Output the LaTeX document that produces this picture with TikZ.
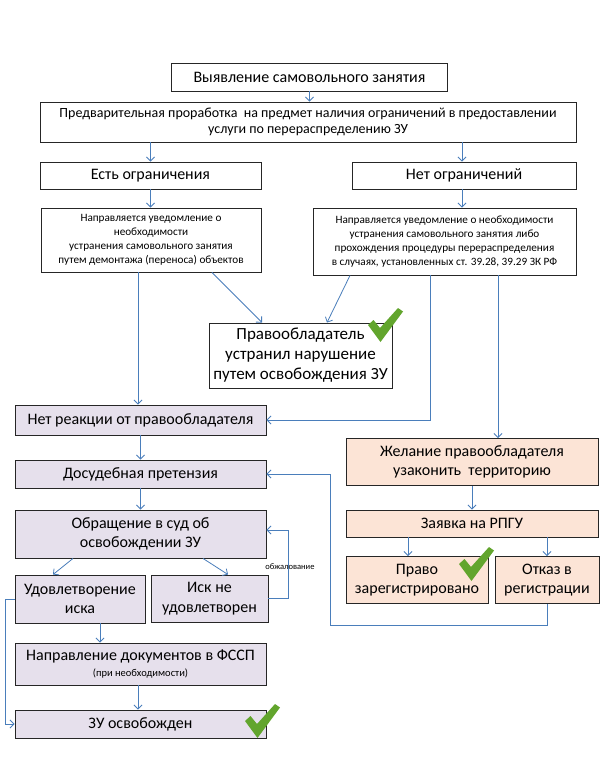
\documentclass[tikz,border=0pt]{standalone}
\usepackage{fontspec}
\setmainfont{Carlito}
\usetikzlibrary{arrows.meta}
\definecolor{arrowblue}{HTML}{4A7EBB}
\definecolor{lav}{HTML}{E6E0EC}
\definecolor{peach}{HTML}{FCE4D6}
\definecolor{chkgreen}{HTML}{62A52D}
\newcommand\chk[1]{\fill[chkgreen, shift={(#1)}] (0,17) -- (5.5,12) -- (12,20) -- (30,0) -- (35,3.5) -- (12.5,34) -- cycle;}
\begin{document}
\begin{tikzpicture}[x=1pt,y=-1pt,
  box/.style={draw=black!85, line width=0.9pt, align=center, inner sep=1pt},
  lbox/.style={box, fill=lav},
  pbox/.style={box, fill=peach},
  arr/.style={draw=arrowblue, line width=0.8pt, -{Straight Barb[length=4pt,width=8pt]}},
  fA/.style={font=\fontsize{16}{18}\selectfont},
  fB/.style={font=\fontsize{14}{16}\selectfont},
  fC/.style={font=\fontsize{11.2}{14}\selectfont},
  fD/.style={font=\fontsize{17}{20}\selectfont},
  fE/.style={font=\fontsize{16}{19.5}\selectfont}]
\useasboundingbox (0,0) rectangle (615,768);
\fill[white] (0,0) rectangle (615,768);
% boxes
\node[box,fA,minimum width=276,minimum height=28] (top) at (309.5,77) {Выявление самовольного занятия};
\node[box,fB,minimum width=536,minimum height=40] (prelim) at (308,122) {Предварительная проработка \ на предмет наличия ограничений в предоставлении\\услуги по перераспределению ЗУ};
\node[box,fA,minimum width=221,minimum height=27] (est) at (150.5,175.5) {Есть ограничения};
\node[box,fA,minimum width=224,minimum height=27] (net) at (464,175.5) {Нет ограничений};
\node[box,fC,minimum width=220,minimum height=64] (notL) at (151,240) {Направляется уведомление о\\необходимости\\устранения самовольного занятия\\путем демонтажа (переноса) объектов};
\node[box,fC,minimum width=263,minimum height=67] (notR) at (444.5,241.5) {Направляется уведомление о необходимости\\устранения самовольного занятия либо\\прохождения процедуры перераспределения\\в случаях, установленных ст. 39.28, 39.29 ЗК РФ};
\node[box,fD,minimum width=183,minimum height=65] (prav) at (300.5,355.5) {Правообладатель\\устранил нарушение\\путем освобождения ЗУ};
\node[lbox,fE,minimum width=251,minimum height=30] (noreact) at (140.5,420) {Нет реакции от правообладателя};
\node[lbox,fE,minimum width=251,minimum height=28] (dosud) at (140.5,474) {Досудебная претензия};
\node[lbox,fE,minimum width=251,minimum height=48] (court) at (140.5,534) {Обращение в суд об\\освобождении ЗУ};
\node[lbox,fE,minimum width=130,minimum height=48] (udov) at (80,599) {Удовлетворение\\иска};
\node[lbox,fE,minimum width=117,minimum height=47] (isk) at (209.5,598.5) {Иск не\\удовлетворен};
\node[lbox,fE,minimum width=251,minimum height=42] (fssp) at (140.5,664) {Направление документов в ФССП\\[-4pt]{\fontsize{10.5}{12}\selectfont (при необходимости)}};
\node[lbox,fE,minimum width=251,minimum height=28] (zu) at (140.5,724) {ЗУ освобожден};
\node[pbox,fE,minimum width=252,minimum height=47] (zhel) at (472,462) {Желание правообладателя\\узаконить \ территорию};
\node[pbox,fE,minimum width=252,minimum height=27] (zayav) at (472,523.5) {Заявка на РПГУ};
\node[pbox,fE,minimum width=142,minimum height=47] (pravo) at (417,580) {Право\\зарегистрировано};
\node[pbox,fE,minimum width=104,minimum height=47] (otkaz) at (547,580) {Отказ в\\регистрации};
% connectors
\draw[arr] (top.south) -- (top.south |- prelim.north);
\draw[arr] (prelim.south -| est.north) -- (est.north);
\draw[arr] ([xshift=-2]prelim.south -| net.north) -- ([xshift=-2]net.north);
\draw[arr] (est.south) -- (est.south |- notL.north);
\draw[arr] ([xshift=-2]net.south) -- ([xshift=-2]net.south |- notR.north);
\draw[arr] ([xshift=-13]notL.south) -- ([xshift=-13]notL.south |- noreact.north);
\draw[arr] ([xshift=61]notL.south) -- ([xshift=-38.5]prav.north);
\draw[arr] ([xshift=-94.5]notR.south) -- ([xshift=26.5]prav.north);
\draw[arr] ([xshift=-14.5]notR.south) |- (noreact.east);
\draw[arr] ([xshift=53.5]notR.south) -- ([xshift=53.5]notR.south |- zhel.north);
\draw[arr] (noreact.south) -- (dosud.north);
\draw[arr] (dosud.south) -- (court.north);
\draw[arr] ([xshift=-67.5]court.south) -- ([xshift=-27]udov.north);
\draw[arr] ([xshift=62.5]court.south) -- ([xshift=18.5]isk.north);
\coordinate (app) at (288,598.5);
\draw[arr] (isk.east) -- (app) |- ([yshift=4]court.east);
\node[font=\fontsize{8.5}{9}\selectfont, inner sep=0pt] (obzh) at (290,567) {обжалование};
\draw[arr] ([xshift=20]udov.south) -- ([xshift=20]udov.south |- fssp.north);
\draw[arr] ([xshift=-2.5]fssp.south) -- ([xshift=-2.5]zu.north);
\coordinate (lft) at (5,599);
\draw[arr] (udov.west) -- (lft) |- (zu.west);
\coordinate (rb) at (330,625);
\draw[arr] (otkaz.south) |- (rb) |- (dosud.east);
\draw[arr] (zhel.south) -- (zayav.north);
\draw[arr] ([xshift=-9]pravo.north |- zayav.south) -- ([xshift=-9]pravo.north);
\draw[arr] (otkaz.north |- zayav.south) -- (otkaz.north);
% checkmarks
\chk{368,308}
\chk{459,547}
\chk{245,704}
\end{tikzpicture}
\end{document}
